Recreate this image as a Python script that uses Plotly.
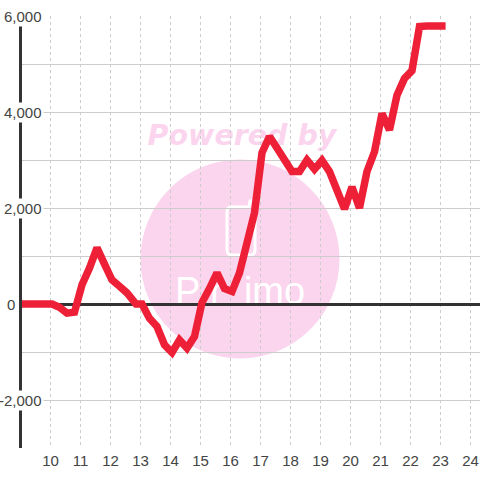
import plotly.graph_objects as go

hours = [8.9, 9.05, 9.3, 9.55, 9.8, 10.05, 10.3, 10.55, 10.8, 11.05, 11.3, 11.55, 11.8, 12.05, 12.3, 12.55, 12.85, 13.05,
         13.3, 13.55, 13.8, 14.05, 14.3, 14.55, 14.8, 15.05, 15.3, 15.55, 15.8, 16.05, 16.3, 16.55, 16.8, 17.05,
         17.3, 17.55, 17.8, 18.05, 18.3, 18.55, 18.8, 19.05, 19.3, 19.55, 19.8, 20.05, 20.3, 20.55, 20.8, 21.05,
         21.3, 21.55, 21.8, 22.05, 22.3, 22.55, 22.8, 23.17]
values = [0, 0, 0, 0, 0, 0, -70, -190, -170, 400, 750, 1170, 830, 500, 370, 230, 0, 0,
          -300, -470, -850, -1010, -750, -920, -680, 30, 320, 650, 320, 260, 650, 1330, 1900, 3150,
          3490, 3250, 3000, 2760, 2760, 3000, 2810, 2990, 2760, 2375, 1980, 2440, 2000, 2760, 3170, 3970,
          3625, 4350, 4700, 4860, 5780, 5790, 5790, 5790]
x_ticks = list(range(10, 25))
y_ticks = [6000, 4000, 2000, -2000]
y_tick_labels = ["6,000", "4,000", "2,000", "-2,000"]
zero_label = "0"

PINK = "#fbd5ee"
FONT = "Liberation Sans"
TEXT = "#444444"
L, T, W, H = 22, 16, 458, 432


def px(a):
    return (a - L) / W


def py(b):
    return (T + H - b) / H


fig = go.Figure(go.Scatter(
    x=hours, y=values, mode="lines", cliponaxis=False,
    line=dict(color="#ee2037", width=7.5, shape="linear"), hoverinfo="skip",
))

# phone outline of the watermark, as a rounded path in paper coordinates
phone = (f"M {px(231)},{py(207)} L {px(249)},{py(207)} L {px(250)},{py(201)} L {px(253)},{py(201)} "
         f"L {px(254)},{py(209)} L {px(255)},{py(212)} L {px(255)},{py(250)} "
         f"Q {px(255)},{py(255)} {px(250)},{py(255)} L {px(232)},{py(255)} "
         f"Q {px(227)},{py(255)} {px(227)},{py(250)} L {px(227)},{py(212)} "
         f"Q {px(227)},{py(207)} {px(231)},{py(207)} Z")

shapes = [
    dict(type="circle", xref="paper", yref="paper", layer="below",
         x0=px(140.5), x1=px(339.5), y0=py(358.5), y1=py(159.5),
         fillcolor=PINK, line=dict(width=0)),
    dict(type="path", xref="paper", yref="paper", layer="below", path=phone,
         fillcolor="rgba(0,0,0,0)", line=dict(color="white", width=3)),
    dict(type="rect", xref="paper", yref="paper", layer="below",
         x0=px(140), x1=px(344), y0=py(150), y1=py(116),
         fillcolor="rgba(0,0,0,0)", line=dict(width=0),
         label=dict(text="<b><i>Powered by</i></b>", textposition="middle center",
                    font=dict(family="DejaVu Sans", size=28.5, color=PINK))),
    dict(type="rect", xref="paper", yref="paper", layer="below",
         x0=px(165), x1=px(315), y0=py(306), y1=py(268),
         fillcolor="rgba(0,0,0,0)", line=dict(width=0),
         label=dict(text="P r&nbsp;&nbsp;imo", textposition="middle center",
                    font=dict(family="Liberation Sans", size=38, color="white"))),
]

annotations = [
    dict(xref="paper", yref="y", x=px(44), y=v, text=t, showarrow=False, xanchor="right", yanchor="middle",
         bgcolor="white", borderpad=1, font=dict(family=FONT, size=15, color=TEXT))
    for v, t in zip(y_ticks, y_tick_labels)
]
annotations.append(dict(xref="paper", yref="y", x=px(17), y=0, text=zero_label, showarrow=False,
                        xanchor="right", yanchor="middle", font=dict(family=FONT, size=15, color=TEXT)))

fig.update_layout(
    width=480, height=480, autosize=False,
    margin=dict(l=L, r=0, t=T, b=480 - T - H),
    plot_bgcolor="white", paper_bgcolor="white", showlegend=False,
    shapes=shapes, annotations=annotations,
    xaxis=dict(range=[9.05, 24.317], tickmode="array", tickvals=x_ticks, ticktext=[str(v) for v in x_ticks],
               showgrid=True, gridcolor="#cccccc", gridwidth=1, griddash="3px,3px",
               zeroline=False, showline=False, ticks="", ticklabelstandoff=2,
               tickfont=dict(family=FONT, size=15, color=TEXT)),
    yaxis=dict(range=[-3000, 6000], dtick=1000, tick0=0, showticklabels=False, ticks="",
               showgrid=True, gridcolor="#cccccc", gridwidth=1,
               zeroline=True, zerolinecolor="#333333", zerolinewidth=3,
               showline=True, linecolor="#333333", linewidth=3),
)
fig.write_html("out.html", config={"displayModeBar": False},
               post_script="document.body.style.margin='0';document.documentElement.style.overflow='hidden';")
